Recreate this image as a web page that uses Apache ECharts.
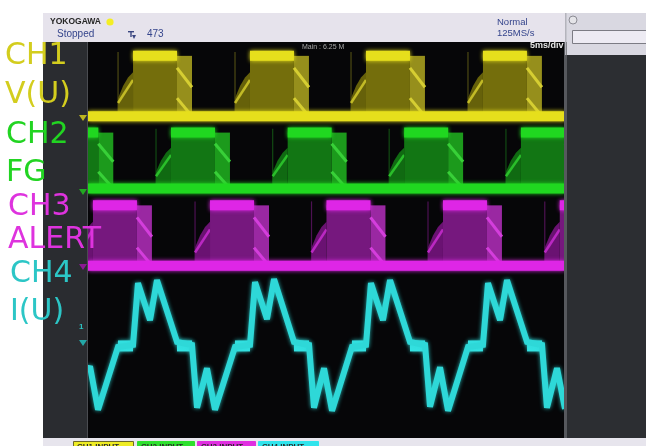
<!DOCTYPE html>
<html>
<head>
<meta charset="utf-8">
<script src="https://cdn.jsdelivr.net/npm/echarts@6/dist/echarts.min.js"></script>
<style>
  html, body { margin: 0; padding: 0; background: #ffffff; }
  #scope { width: 646px; height: 446px; }
</style>
</head>
<body>
<div id="scope"></div>
<script>
// ---- acquisition frame: 10 div x 5 ms/div horizontally, 8 divisions vertically ----
const timeRange = [0, 50];      // ms
const divRange = [-4, 4];       // divisions

// ---- logic channels: [high level, low level] in divisions ----
const ch1Levels = [3.72, 2.50];
const ch2Levels = [2.17, 1.04];
const ch3Levels = [0.70, -0.52];

// start time (ms) of every high plateau on screen
const ch1Plateaus = [4.72, 16.98, 29.14, 41.40];
const ch2Plateaus = [-3.53, 8.70, 20.93, 33.14, 45.38];
const ch3Plateaus = [0.52, 12.79, 25.00, 37.21, 49.45];

// edge jitter window and plateau duration (ms)
const edgeSpread = 1.57;
const plateauLength = 4.61;

// persistence envelope of the rising edge (fraction of the swing across the jitter window)
const riseEnvelope = [0.30, 0.50, 0.64, 0.73];
const riseStreak = [0.22, 0.60];
const fallStreaks = [[0.20, 0.52], [0.70, 1.00]];

// ---- CH4 phase current I(U): [ms, div] ----
const ch4Trace = [
  [0.00, -2.63], [0.21, -2.55], [1.05, -3.43], [3.14, -2.16],
  [4.72, -2.12], [5.24, -0.87], [6.50, -1.62], [7.23, -0.81], [9.33, -2.06], [10.90, -2.12],
  [11.43, -3.39], [12.47, -2.59], [13.31, -3.43], [15.41, -2.16],
  [16.98, -2.12], [17.51, -0.85], [18.76, -1.60], [19.50, -0.79], [21.59, -2.06], [23.17, -2.12],
  [23.69, -3.39], [24.74, -2.59], [25.58, -3.45], [27.67, -2.16],
  [29.14, -2.12], [29.66, -0.87], [30.92, -1.62], [31.66, -0.81], [33.75, -2.06], [35.33, -2.12],
  [35.85, -3.37], [36.90, -2.57], [37.74, -3.45], [39.83, -2.16],
  [41.40, -2.12], [41.93, -0.87], [43.19, -1.62], [43.92, -0.81], [46.02, -2.06], [47.59, -2.12],
  [48.11, -3.39], [49.16, -2.59], [50.00, -3.41]
];
// flat (zero-crossing) segments of the current, [start ms, end ms]
const ch4Flats = [
  [3.14, 4.72], [9.33, 10.90], [15.41, 16.98], [21.59, 23.17],
  [27.67, 29.14], [33.75, 35.33], [39.83, 41.40], [46.02, 47.59]
];
const ch4FlatLevel = -2.14;

// channel captions shown beside the screen
const captions = [
  ['CH1', 'V(U)'], ['CH2', 'FG'], ['CH3', 'ALERT'], ['CH4', 'I(U)']
];
const inputTabs = ['CH1 INPUT', 'CH2 INPUT', 'CH3 INPUT', 'CH4 INPUT'];

// ---- styling ----
const palettes = {
  ch1: { band: '#e6df1c', body: '#746e0c', rise: '#66610a', riseLine: '#c2ba26', fall: '#968f1c', fallLine: '#d6ce32', dim: 'rgba(210,200,40,0.35)', caption: '#d3cd1e' },
  ch2: { band: '#20d820', body: '#127614', rise: '#106a12', riseLine: '#2abe2a', fall: '#1c9a1c', fallLine: '#38d038', dim: 'rgba(40,200,40,0.35)', caption: '#22d422' },
  ch3: { band: '#de26e6', body: '#76187e', rise: '#6a1272', riseLine: '#ba28c2', fall: '#9a28a2', fallLine: '#d43edc', dim: 'rgba(210,40,220,0.35)', caption: '#de33de' },
  ch4: { band: '#2ed8d8', caption: '#2cc6c6' }
};

function pulseSeries(name, starts, levels, pal) {
  const hi = levels[0], lo = levels[1], amp = hi - lo;
  return {
    type: 'custom',
    name: name,
    data: starts.map(t => [t]),
    clip: true,
    z: 2,
    silent: true,
    renderItem: function (params, api) {
      const p = api.value(0);
      const e = edgeSpread, w = plateauLength;
      const c = (t, v) => api.coord([t, v]);
      const n = riseEnvelope.length - 1;
      const riseTop = riseEnvelope.map((f, i) => c(p - e + e * i / n, lo + f * amp));
      const children = [
        { type: 'line', shape: { x1: c(p - e, hi)[0], y1: c(p - e, hi + 0.08)[1], x2: c(p - e, lo)[0], y2: c(p - e, lo)[1] },
          style: { stroke: pal.dim, lineWidth: 1.2 } },
        { type: 'polygon', shape: { points: [c(p - e, lo)].concat(riseTop, [c(p, lo)]) },
          style: { fill: pal.rise } },
        { type: 'line', shape: (() => { const a = c(p - e, lo + riseStreak[0] * amp), b = c(p, lo + riseStreak[1] * amp); return { x1: a[0], y1: a[1], x2: b[0], y2: b[1] }; })(),
          style: { stroke: pal.riseLine, lineWidth: 2.5 } },
        { type: 'polygon', shape: { points: [c(p, hi), c(p + w, hi), c(p + w, lo), c(p, lo)] },
          style: { fill: pal.body } },
        { type: 'polygon', shape: { points: [c(p + w, hi), c(p + w + e, hi), c(p + w + e, lo), c(p + w, lo)] },
          style: { fill: pal.fall } }
      ];
      fallStreaks.forEach(s => {
        const a = c(p + w, hi - s[0] * amp), b = c(p + w + e, hi - s[1] * amp);
        children.push({ type: 'line', shape: { x1: a[0], y1: a[1], x2: b[0], y2: b[1] },
          style: { stroke: pal.fallLine, lineWidth: 3 } });
      });
      const h0 = c(p, hi), h1 = c(p + w, hi);
      children.push({ type: 'line', shape: { x1: h0[0], y1: h0[1], x2: h1[0], y2: h1[1] },
        style: { stroke: pal.band, lineWidth: 10, shadowBlur: 4, shadowColor: pal.band } });
      return { type: 'group', children: children };
    }
  };
}

function lowBandSeries(name, levels, pal) {
  return {
    type: 'line', name: name, z: 3, silent: true, showSymbol: false,
    data: [[timeRange[0], levels[1]], [timeRange[1], levels[1]]],
    lineStyle: { color: pal.band, width: 10, shadowBlur: 4, shadowColor: pal.band }
  };
}

const series = [
  pulseSeries('CH1 V(U)', ch1Plateaus, ch1Levels, palettes.ch1),
  lowBandSeries('CH1 low', ch1Levels, palettes.ch1),
  pulseSeries('CH2 FG', ch2Plateaus, ch2Levels, palettes.ch2),
  lowBandSeries('CH2 low', ch2Levels, palettes.ch2),
  pulseSeries('CH3 ALERT', ch3Plateaus, ch3Levels, palettes.ch3),
  lowBandSeries('CH3 low', ch3Levels, palettes.ch3),
  {
    type: 'line', name: 'CH4 I(U)', z: 4, silent: true, showSymbol: false,
    data: ch4Trace,
    lineStyle: { color: palettes.ch4.band, width: 6, join: 'miter', miterLimit: 2.5, shadowBlur: 4, shadowColor: 'rgba(46,216,216,0.8)' }
  },
  {
    type: 'custom', name: 'CH4 flats', z: 4, silent: true, clip: true,
    data: ch4Flats,
    renderItem: function (params, api) {
      const a = api.coord([api.value(0), ch4FlatLevel]);
      const b = api.coord([api.value(1), ch4FlatLevel]);
      return { type: 'line', shape: { x1: a[0], y1: a[1], x2: b[0], y2: b[1] },
        style: { stroke: '#34e2e2', lineWidth: 11, shadowBlur: 4, shadowColor: 'rgba(46,216,216,0.8)' } };
    }
  }
];

// ---- instrument frame around the waveform area ----
const chrome = [
  { type: 'rect', shape: { x: 43, y: 13, width: 522, height: 29 }, style: { fill: '#e6e3ec' } },
  { type: 'rect', shape: { x: 565, y: 13, width: 81, height: 42 }, style: { fill: '#d9d8e1' } },
  { type: 'rect', shape: { x: 565, y: 55, width: 81, height: 383 }, style: { fill: '#2c2e32' } },
  { type: 'rect', shape: { x: 564, y: 42, width: 3, height: 396 }, style: { fill: '#56585d' } },
  { type: 'rect', shape: { x: 565, y: 13, width: 1.5, height: 42 }, style: { fill: '#b4b4bc' } },
  { type: 'circle', shape: { cx: 573, cy: 20, r: 4 }, style: { fill: '#e4e4e8', stroke: '#8c8c94', lineWidth: 1 } },
  { type: 'rect', shape: { x: 572.5, y: 30.5, width: 80, height: 13 }, style: { fill: '#edebf3', stroke: '#7c7c84', lineWidth: 1 } },
  { type: 'rect', shape: { x: 43, y: 42, width: 44, height: 396 }, style: { fill: '#2a2c30' } },
  { type: 'rect', shape: { x: 87, y: 42, width: 1, height: 396 }, style: { fill: '#4a4c51' } },
  { type: 'rect', shape: { x: 43, y: 438, width: 603, height: 8 }, style: { fill: '#e7e5ed' } },
  // header text
  { type: 'text', style: { x: 50, y: 22, text: 'YOKOGAWA', font: 'bold 8.5px "Liberation Sans"', fill: '#262626', verticalAlign: 'middle' } },
  { type: 'circle', shape: { cx: 110, cy: 22, r: 3.6 }, style: { fill: '#f4ee24' } },
  { type: 'text', style: { x: 57, y: 34, text: 'Stopped', font: '10px "Liberation Sans"', fill: '#35458c', verticalAlign: 'middle' } },
  { type: 'rect', shape: { x: 128, y: 31, width: 6, height: 1.4 }, style: { fill: '#3a4680' } },
  { type: 'rect', shape: { x: 130.3, y: 31, width: 1.4, height: 6 }, style: { fill: '#3a4680' } },
  { type: 'polygon', shape: { points: [[132, 35], [136, 35], [134, 39]] }, style: { fill: '#3a4680' } },
  { type: 'text', style: { x: 147, y: 34, text: '473', font: '10px "Liberation Sans"', fill: '#35458c', verticalAlign: 'middle' } },
  { type: 'text', style: { x: 497, y: 22.5, text: 'Normal', font: '9.5px "Liberation Sans"', fill: '#35458c', verticalAlign: 'middle' } },
  { type: 'text', style: { x: 497, y: 33.5, text: '125MS/s', font: '9.5px "Liberation Sans"', fill: '#35458c', verticalAlign: 'middle' } },
  // on-screen annotations
  { type: 'text', style: { x: 302, y: 47.5, text: 'Main : 6.25 M', font: '7px "Liberation Sans"', fill: '#a8a8a8', verticalAlign: 'middle' } },
  { type: 'text', style: { x: 530, y: 46, text: '5ms/div', font: 'bold 9px "Liberation Sans"', fill: '#e6e6e6', verticalAlign: 'middle' } },
  // ground markers on the left strip
  { type: 'polygon', shape: { points: [[79, 115], [87, 115], [83, 121]] }, style: { fill: '#bdb520' } },
  { type: 'polygon', shape: { points: [[79, 189], [87, 189], [83, 195]] }, style: { fill: '#22a822' } },
  { type: 'polygon', shape: { points: [[79, 264], [87, 264], [83, 270]] }, style: { fill: '#8a1a92' } },
  { type: 'text', style: { x: 79, y: 327, text: '1', font: 'bold 8px "Liberation Sans"', fill: '#2cc4c4', verticalAlign: 'middle' } },
  { type: 'polygon', shape: { points: [[79, 340], [87, 340], [83, 346]] }, style: { fill: '#24a8a8' } },
  { type: 'text', style: { x: 568, y: 446, text: 'Edge', font: '10px "Liberation Sans"', fill: '#333333', verticalAlign: 'top' } }
];

// bottom channel tabs
const tabGeom = [[73, 60], [137, 57], [197, 58], [258, 60]];
const tabFill = ['#eeec24', '#2ee02e', '#e02ee0', '#30e4ec'];
inputTabs.forEach((label, i) => {
  chrome.push({ type: 'rect', shape: { x: tabGeom[i][0] + 0.5, y: 441.5, width: tabGeom[i][1], height: 10 },
    style: { fill: tabFill[i], stroke: i === 0 ? '#6e6a2a' : tabFill[i], lineWidth: 1 } });
  chrome.push({ type: 'text', style: { x: tabGeom[i][0] + 4, y: 443, text: label, font: 'bold 8px "Liberation Sans"', fill: '#2a2a2a', verticalAlign: 'top' } });
});

// big captions to the left of the screen
const captionColors = [palettes.ch1.caption, palettes.ch2.caption, palettes.ch3.caption, palettes.ch4.caption];
const captionX = [5, 6, 8, 10];
const captionY = [[56, 95], [135, 173], [207, 240], [274, 312]];
captions.forEach((pair, i) => {
  pair.forEach((txt, j) => {
    chrome.push({ type: 'text', z: 30, style: { x: captionX[i], y: captionY[i][j], text: txt,
      font: '30px "DejaVu Sans"', fill: captionColors[i], verticalAlign: 'middle' } });
  });
});

chrome.forEach(el => { if (el.z === undefined) el.z = 20; });

const chart = echarts.init(document.getElementById('scope'), null, { renderer: 'canvas' });
chart.setOption({
  animation: false,
  backgroundColor: '#ffffff',
  grid: { left: 88, top: 42, width: 477, height: 396, show: true, backgroundColor: '#060608', borderWidth: 0 },
  xAxis: { type: 'value', min: timeRange[0], max: timeRange[1], show: false },
  yAxis: { type: 'value', min: divRange[0], max: divRange[1], show: false },
  graphic: { elements: chrome },
  series: series
});
</script>
</body>
</html>
